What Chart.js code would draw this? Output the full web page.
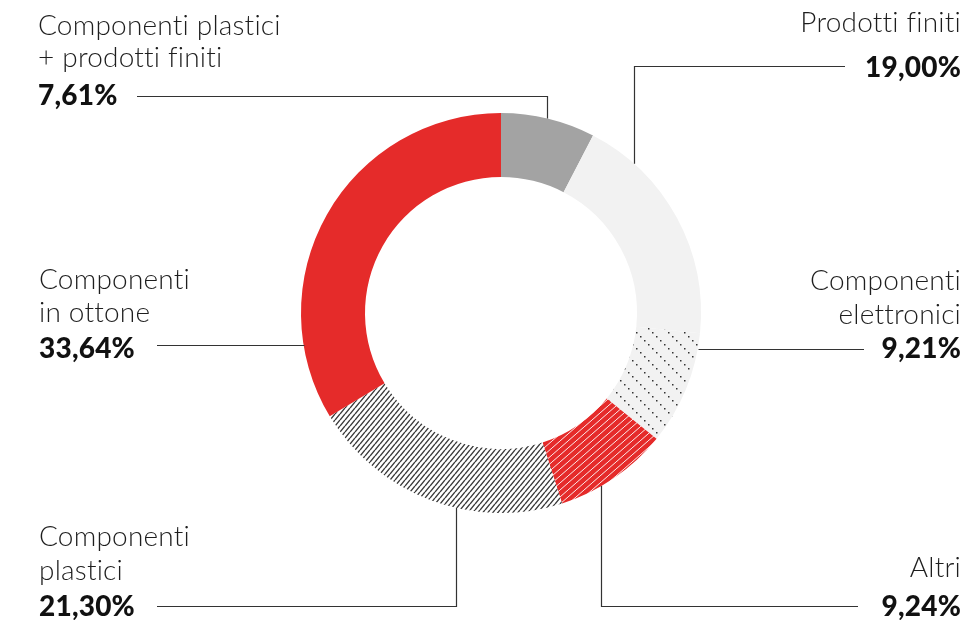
<!DOCTYPE html>
<html>
<head>
<meta charset="utf-8">
<script src="https://cdn.jsdelivr.net/npm/chart.js@4.4.1/dist/chart.umd.min.js"></script>
<style>
  html, body { margin: 0; padding: 0; background: #fff; }
  #wrap { width: 979px; height: 620px; }
</style>
</head>
<body>
<div id="wrap"><canvas id="chart" width="979" height="620"></canvas></div>
<script>
// Dati del grafico
const categories = [
  ['Componenti plastici', '+ prodotti finiti'],
  ['Prodotti finiti'],
  ['Componenti', 'elettronici'],
  ['Altri'],
  ['Componenti', 'plastici'],
  ['Componenti', 'in ottone']
];
const values = [7.61, 19.00, 9.21, 9.24, 21.30, 33.64];

// Posizione delle etichette e delle linee guida (solo layout)
const labelLayout = [
  { x: 38,  align: 'left',  lines: [35, 67],   num: 105, leader: 'elbow', lineY: 96,  endX: 137, at: 0.49 },
  { x: 961, align: 'right', lines: [32],       num: 77,  leader: 'elbow', lineY: 66,  endX: 845, at: 0.21 },
  { x: 961, align: 'right', lines: [290, 324], num: 358, leader: 'flat',  endX: 864, at: 0.14 },
  { x: 961, align: 'right', lines: [577],      num: 616, leader: 'elbow', lineY: 606, endX: 858, at: 0.63 },
  { x: 39,  align: 'left',  lines: [546, 580], num: 616, leader: 'elbow', lineY: 606, endX: 157, at: 0.40 },
  { x: 39,  align: 'left',  lines: [289, 322], num: 358, leader: 'flat',  endX: 157, at: 0.18 }
];

const RED = '#e52b2a';
const GREY = '#a3a3a3';
const LIGHT = '#f2f2f2';

// Crea un pattern ripetuto
function makePattern(w, h, bg, draw) {
  const c = document.createElement('canvas');
  c.width = w;
  c.height = h;
  const g = c.getContext('2d');
  g.fillStyle = bg;
  g.fillRect(0, 0, w, h);
  draw(g, w, h);
  return g.createPattern(c, 'repeat');
}

// Linee diagonali "/"
function slashes(color, width) {
  return (g, w, h) => {
    g.strokeStyle = color;
    g.lineWidth = width;
    g.beginPath();
    [-w, 0, w].forEach(off => {
      g.moveTo(off, h);
      g.lineTo(off + w, 0);
    });
    g.stroke();
  };
}

// Linee puntinate "\"
function dottedBackslashes(color) {
  return (g, w) => {
    g.fillStyle = color;
    for (let i = 0; i < w; i += 4) {
      g.fillRect(i, i, 1.5, 1.5);
    }
  };
}

const fills = [
  GREY,
  LIGHT,
  makePattern(16, 16, LIGHT, dottedBackslashes('#333')),
  makePattern(8, 7, RED, slashes('rgba(255,255,255,0.9)', 1)),
  makePattern(5, 6, '#ffffff', slashes('#3a3a3a', 1.4)),
  RED
];

function fmt(v) {
  return v.toFixed(2).replace('.', ',') + '%';
}

// Etichette con linee guida
const leaderPlugin = {
  id: 'leaders',
  afterDraw(chart) {
    const ctx = chart.ctx;
    const arcs = chart.getDatasetMeta(0).data;
    labelLayout.forEach((lay, i) => {
      const arc = arcs[i];
      const a = arc.startAngle + (arc.endAngle - arc.startAngle) * lay.at;
      const px = Math.round(arc.x + Math.cos(a) * arc.outerRadius) + 0.5;
      const py = arc.y + Math.sin(a) * arc.outerRadius;
      ctx.save();
      ctx.strokeStyle = '#333';
      ctx.lineWidth = 1.2;
      ctx.beginPath();
      if (lay.leader === 'elbow') {
        ctx.moveTo(px, py);
        ctx.lineTo(px, lay.lineY + 0.5);
        ctx.lineTo(lay.endX, lay.lineY + 0.5);
      } else {
        const y = Math.round(py) + 0.5;
        ctx.moveTo(px, y);
        ctx.lineTo(lay.endX, y);
      }
      ctx.stroke();

      ctx.textAlign = lay.align;
      ctx.textBaseline = 'alphabetic';
      ctx.letterSpacing = '0.2px';
      ctx.fillStyle = '#1e1e1e';
      ctx.font = '300 28px Lato';
      categories[i].forEach((t, j) => ctx.fillText(t, lay.x, lay.lines[j]));
      ctx.fillStyle = '#111';
      ctx.font = '900 28px Lato';
      ctx.fillText(fmt(values[i]), lay.x, lay.num);
      ctx.restore();
    });
  }
};

new Chart(document.getElementById('chart'), {
  type: 'doughnut',
  data: {
    labels: categories.map(c => c.join(' ')),
    datasets: [{
      data: values,
      backgroundColor: fills,
      borderWidth: 0,
      hoverOffset: 0
    }]
  },
  options: {
    responsive: false,
    animation: false,
    cutout: '68%',
    layout: {
      padding: { top: 113, bottom: 107, left: 300, right: 277 }
    },
    plugins: {
      legend: { display: false },
      tooltip: { enabled: false }
    }
  },
  plugins: [leaderPlugin]
});
</script>
</body>
</html>
